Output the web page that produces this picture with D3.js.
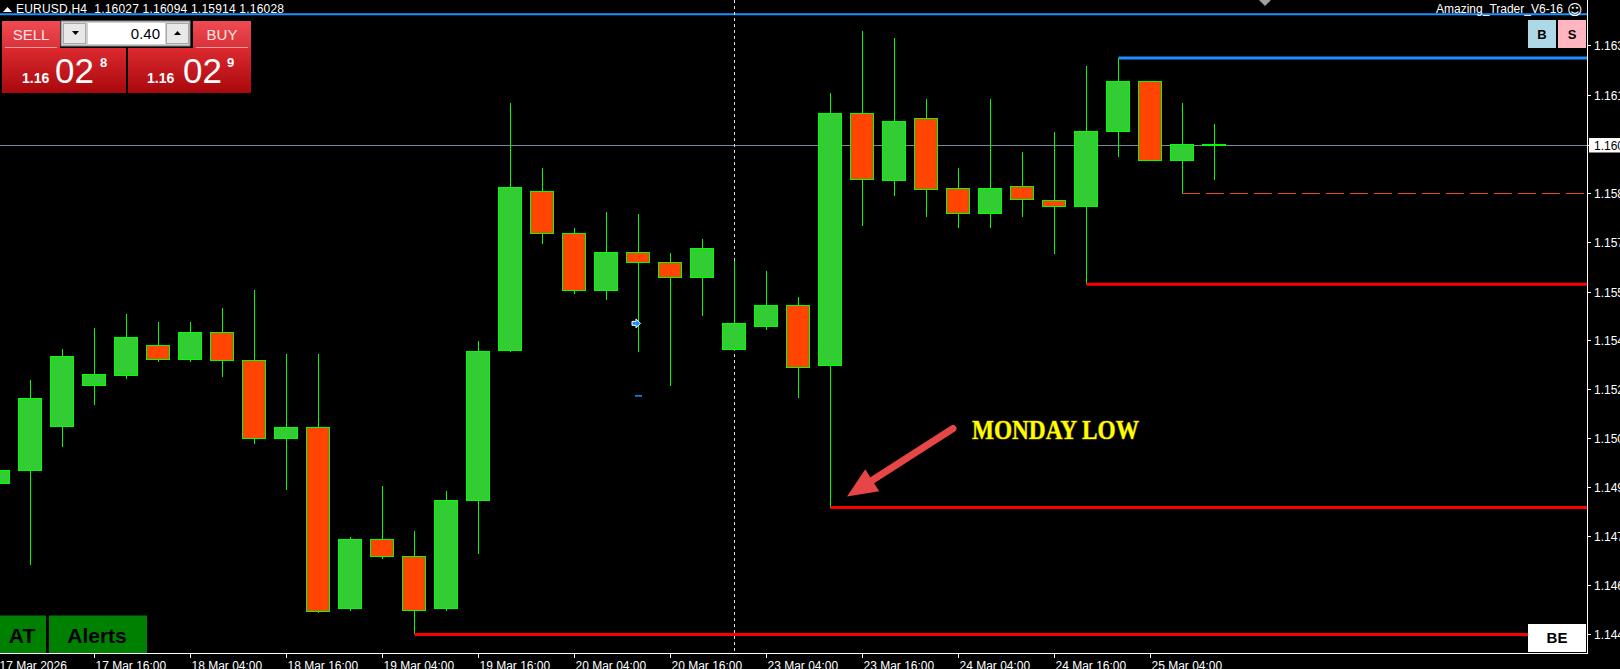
<!DOCTYPE html>
<html>
<head>
<meta charset="utf-8">
<script src="https://cdn.jsdelivr.net/npm/d3@7"></script>
<style>
  html, body { margin: 0; padding: 0; background: #000; overflow: hidden; }
  svg { display: block; font-family: "Liberation Sans", Arial, sans-serif; }
</style>
</head>
<body>
<script>
// EURUSD H4, 17 Mar 04:00 .. 25 Mar 12:00
const symbol = "EURUSD,H4";
const lastQuote = ["1.16027", "1.16094", "1.15914", "1.16028"];
const currentPrice = 1.16028;

const opens = [1.14938, 1.14981, 1.15120, 1.15253, 1.15287, 1.15383, 1.15336, 1.15423, 1.15333, 1.15084,
  1.15117, 1.14536, 1.14758, 1.14705, 1.14536, 1.14885, 1.15366, 1.15878, 1.15742, 1.15559,
  1.15682, 1.15649, 1.15599, 1.15370, 1.15443, 1.15512, 1.15316, 1.16127, 1.15911, 1.16113,
  1.15888, 1.15805, 1.15894, 1.15848, 1.15828, 1.16070, 1.16230, 1.15977, 1.16027];
const highs = [1.14998, 1.15270, 1.15370, 1.15439, 1.15482, 1.15459, 1.15456, 1.15502, 1.15559, 1.15356,
  1.15356, 1.14765, 1.14931, 1.14785, 1.14915, 1.15396, 1.16163, 1.15954, 1.15761, 1.15811,
  1.15805, 1.15678, 1.15725, 1.15652, 1.15622, 1.15539, 1.16193, 1.16392, 1.16369, 1.16173,
  1.15954, 1.16173, 1.16004, 1.16067, 1.16280, 1.16306, 1.16233, 1.16163, 1.16094];
const lows = [1.14931, 1.14675, 1.15054, 1.15190, 1.15273, 1.15330, 1.15330, 1.15280, 1.15064, 1.14918,
  1.14523, 1.14529, 1.14695, 1.14453, 1.14529, 1.14712, 1.15360, 1.15708, 1.15549, 1.15529,
  1.15360, 1.15253, 1.15476, 1.15363, 1.15433, 1.15213, 1.14861, 1.15765, 1.15864, 1.15795,
  1.15761, 1.15761, 1.15795, 1.15675, 1.15579, 1.15987, 1.15974, 1.15871, 1.15914];
const closes = [1.14981, 1.15213, 1.15346, 1.15290, 1.15409, 1.15336, 1.15423, 1.15333, 1.15084, 1.15117,
  1.14526, 1.14758, 1.14705, 1.14529, 1.14885, 1.15363, 1.15891, 1.15742, 1.15559, 1.15682,
  1.15649, 1.15599, 1.15695, 1.15453, 1.15512, 1.15310, 1.16127, 1.15914, 1.16103, 1.15884,
  1.15805, 1.15888, 1.15851, 1.15828, 1.16070, 1.16230, 1.15977, 1.16027, 1.16028];

// one label every 3 bars (12 hours)
const timeLabels = ["17 Mar 2026", "17 Mar 16:00", "18 Mar 04:00", "18 Mar 16:00", "19 Mar 04:00",
  "19 Mar 16:00", "20 Mar 04:00", "20 Mar 16:00", "23 Mar 04:00", "23 Mar 16:00",
  "24 Mar 04:00", "24 Mar 16:00", "25 Mar 04:00"];
const priceTicks = [1.16348, 1.16186, 1.16026, 1.15871, 1.15716, 1.15555, 1.15400, 1.15241,
  1.15086, 1.14928, 1.14770, 1.14612, 1.14454];

// horizontal levels: price and the bar they start from (-1 = whole chart)
const levelPrices = [1.16447, 1.16306, 1.15579, 1.14861, 1.14453];
const levelStartBars = [-1, 35, 34, 26, 13];
const levelKinds = ["blue", "blue", "red", "red", "red"];
const dashedLevel = 1.15871, dashedStartBar = 37;
const weekStartBar = 23;
const mondayLowBar = 26, mondayLow = 1.14861;
const tradeBar = 20, tradeEntry = 1.15453, tradeExit = 1.15220;

const width = 1620, height = 669;
const plotRight = 1587, plotBottom = 653;

const x = d3.scaleLinear().domain([0, opens.length - 1]).range([-2, 1214]);
const y = d3.scaleLinear().domain([1.14453, 1.16348]).range([634.4, 45]);

const bars = opens.map((o, i) => ({ i, o, h: highs[i], l: lows[i], c: closes[i] }));

const svg = d3.select("body").append("svg")
  .attr("width", width)
  .attr("height", height)
  .style("background", "#000");

const defs = svg.append("defs");
function addGrad(id, top, bottom) {
  const g = defs.append("linearGradient").attr("id", id)
    .attr("x1", 0).attr("y1", 0).attr("x2", 0).attr("y2", 1);
  g.append("stop").attr("offset", "0%").attr("stop-color", top);
  g.append("stop").attr("offset", "100%").attr("stop-color", bottom);
}
addGrad("btnGrad", "#f04b52", "#d83238");
addGrad("priceGrad", "#dc2a30", "#a8080c");

// top blue line + current price line
svg.append("line")
  .attr("x1", 0).attr("x2", plotRight)
  .attr("y1", y(levelPrices[0])).attr("y2", y(levelPrices[0]))
  .attr("stroke", "#1e90ff").attr("stroke-width", 2);

svg.append("line")
  .attr("x1", 0).attr("x2", plotRight)
  .attr("y1", Math.round(y(currentPrice)) + 0.5).attr("y2", Math.round(y(currentPrice)) + 0.5)
  .attr("stroke", "#778899").attr("stroke-width", 1);

// week separator
svg.append("line")
  .attr("x1", x(weekStartBar) + 0.5).attr("x2", x(weekStartBar) + 0.5)
  .attr("y1", 0).attr("y2", plotBottom)
  .attr("stroke", "#e0e0e0").attr("stroke-dasharray", "3,3");

// candles
const candle = svg.append("g").attr("shape-rendering", "crispEdges")
  .selectAll("g").data(bars).join("g");

candle.append("line")
  .attr("x1", d => x(d.i) + 0.5).attr("x2", d => x(d.i) + 0.5)
  .attr("y1", d => y(d.h)).attr("y2", d => y(d.l))
  .attr("stroke", "#00ff00");

candle.append("rect")
  .attr("x", d => x(d.i) - 11.5)
  .attr("width", 23)
  .attr("y", d => y(Math.max(d.o, d.c)))
  .attr("height", d => Math.max(0.5, Math.abs(y(d.o) - y(d.c))))
  .attr("fill", d => d.c >= d.o ? "#32cd32" : "#ff4500")
  .attr("stroke", "#00ff00");

// horizontal level lines
levelPrices.forEach((p, k) => {
  if (k === 0) return;
  const x1 = x(levelStartBars[k]) + 0.5;
  const x2 = k === levelPrices.length - 1 ? 1528 : plotRight;
  svg.append("line")
    .attr("x1", x1).attr("x2", x2)
    .attr("y1", y(p)).attr("y2", y(p))
    .attr("stroke", levelKinds[k] === "blue" ? "#1e90ff" : "#ff0000")
    .attr("stroke-width", 3);
});

svg.append("line")
  .attr("x1", x(dashedStartBar)).attr("x2", plotRight)
  .attr("y1", Math.round(y(dashedLevel)) + 0.5).attr("y2", Math.round(y(dashedLevel)) + 0.5)
  .attr("stroke", "#e0501c").attr("stroke-dasharray", "18,6");

// trade marks
svg.append("path")
  .attr("transform", `translate(${x(tradeBar) - 2},${y(tradeEntry)})`)
  .attr("d", "M-4,-2L0,-2L0,-4.5L4.5,0L0,4.5L0,2L-4,2Z")
  .attr("fill", "#1e90ff").attr("stroke", "#fff").attr("stroke-width", 1);
svg.append("line")
  .attr("x1", x(tradeBar) - 3).attr("x2", x(tradeBar) + 4)
  .attr("y1", y(tradeExit)).attr("y2", y(tradeExit))
  .attr("stroke", "#1e90ff").attr("stroke-width", 1.5);

// chart shift marker
svg.append("path").attr("d", "M1259,0L1271,0L1265,6Z").attr("fill", "#a0a0a0");

// Monday low annotation
const tip = [x(mondayLowBar) + 17, y(mondayLow) - 11];
const tail = [x(mondayLowBar) + 123, y(mondayLow) - 79];
const dx = tip[0] - tail[0], dy = tip[1] - tail[1];
const len = Math.hypot(dx, dy), ux = dx / len, uy = dy / len;
const base = [tip[0] - 30 * ux, tip[1] - 30 * uy];
svg.append("line")
  .attr("x1", tail[0]).attr("y1", tail[1])
  .attr("x2", base[0] + 6 * ux).attr("y2", base[1] + 6 * uy)
  .attr("stroke", "#e64646").attr("stroke-width", 7).attr("stroke-linecap", "round");
svg.append("path")
  .attr("d", `M${tip[0]},${tip[1]}L${base[0] - 13 * uy},${base[1] + 13 * ux}L${base[0] + 13 * uy},${base[1] - 13 * ux}Z`)
  .attr("fill", "#e64646");

svg.append("text")
  .attr("x", x(mondayLowBar) + 142).attr("y", y(mondayLow) - 69)
  .attr("textLength", 167).attr("lengthAdjust", "spacingAndGlyphs")
  .attr("font-family", "'Liberation Serif', 'DejaVu Serif', serif")
  .attr("font-weight", "bold").attr("font-size", 27)
  .attr("fill", "#ffff00").attr("stroke", "#6b5a00").attr("stroke-width", 1.2)
  .attr("paint-order", "stroke")
  .text("MONDAY LOW");

// axes frame
svg.append("line").attr("x1", plotRight + 0.5).attr("x2", plotRight + 0.5)
  .attr("y1", 0).attr("y2", plotBottom + 1).attr("stroke", "#fff");
svg.append("line").attr("x1", 0).attr("x2", plotRight + 1)
  .attr("y1", plotBottom + 0.5).attr("y2", plotBottom + 0.5).attr("stroke", "#fff");

// price axis
const pAxis = svg.append("g").selectAll("g").data(priceTicks).join("g")
  .attr("transform", d => `translate(0,${Math.round(y(d)) + 0.5})`);
pAxis.append("line").attr("x1", plotRight).attr("x2", plotRight + 4).attr("stroke", "#fff");
pAxis.append("text")
  .attr("x", 1594).attr("y", 4.5)
  .attr("font-size", 12).attr("fill", "#fff")
  .text(d => d.toFixed(5));

const cy = Math.round(y(currentPrice)) + 0.5;
svg.append("rect").attr("x", 1589).attr("y", cy - 7.5).attr("width", 40).attr("height", 14.5).attr("fill", "#fff");
svg.append("text").attr("x", 1594).attr("y", cy + 4.5)
  .attr("font-size", 12).attr("fill", "#000").text(currentPrice.toFixed(5));

// time axis
const tAxis = svg.append("g").selectAll("g").data(timeLabels).join("g")
  .attr("transform", (d, k) => `translate(${x(k * 3) + 0.5},0)`);
tAxis.append("line").attr("y1", plotBottom).attr("y2", plotBottom + 5).attr("stroke", "#fff");
tAxis.append("text")
  .attr("x", 1).attr("y", 670)
  .attr("font-size", 12).attr("fill", "#fff")
  .text(d => d);

// header
svg.append("path").attr("d", "M3,12L12,12L7.5,7Z").attr("fill", "#fff");
svg.append("text")
  .attr("x", 16).attr("y", 12.7)
  .attr("font-size", 12).attr("fill", "#fff")
  .attr("textLength", 268).attr("lengthAdjust", "spacing")
  .style("white-space", "pre")
  .text(`${symbol}  ${lastQuote.join(" ")}`);

svg.append("text")
  .attr("x", 1563).attr("y", 13).attr("text-anchor", "end")
  .attr("font-size", 12).attr("fill", "#fff")
  .text("Amazing_Trader_V6-16");
svg.append("text")
  .attr("x", 1567).attr("y", 14.5)
  .attr("font-family", "'DejaVu Sans', sans-serif")
  .attr("font-size", 15).attr("fill", "#fff")
  .text("\u263A");

// B / S buttons
[["B", 1528, "#add8e6"], ["S", 1558, "#ffb6c1"]].forEach(([t, bx, col]) => {
  svg.append("rect").attr("x", bx).attr("y", 20).attr("width", 28).attr("height", 28).attr("fill", col);
  svg.append("text").attr("x", bx + 14).attr("y", 38.5).attr("text-anchor", "middle")
    .attr("font-size", 13).attr("font-weight", "bold").attr("fill", "#000").text(t);
});

// trade panel
const sides = [
  { label: "SELL", bx: 2, px: 2, pw: 124, priceX: 22, bigX: 55, supX: 100, sup: "8" },
  { label: "BUY", bx: 193, px: 128, pw: 123, priceX: 147, bigX: 183, supX: 227, sup: "9" }
];
sides.forEach(s => {
  svg.append("rect").attr("x", s.bx).attr("y", 21).attr("width", 58).attr("height", 27).attr("fill", "url(#btnGrad)");
  svg.append("rect").attr("x", s.px).attr("y", 48).attr("width", s.pw).attr("height", 45).attr("fill", "url(#priceGrad)");
  svg.append("line").attr("x1", s.bx + 3).attr("x2", s.bx + 55).attr("y1", 47.5).attr("y2", 47.5)
    .attr("stroke", "#f49a9a");
  svg.append("text").attr("x", s.bx + 29).attr("y", 39.5).attr("text-anchor", "middle")
    .attr("font-size", 15).attr("fill", "#ffe6e6").text(s.label);
  svg.append("text").attr("x", s.priceX).attr("y", 82.7)
    .attr("font-size", 14).attr("font-weight", "bold").attr("fill", "#fff").text("1.16");
  svg.append("text").attr("x", s.bigX).attr("y", 82.7)
    .attr("font-size", 35).attr("fill", "#fff").text("02");
  svg.append("text").attr("x", s.supX).attr("y", 66.7)
    .attr("font-size", 13).attr("font-weight", "bold").attr("fill", "#fff").text(s.sup);
});

svg.append("rect").attr("x", 61).attr("y", 21).attr("width", 129).attr("height", 25)
  .attr("fill", "#d0d0d0").attr("stroke", "#8a8a8a");
svg.append("rect").attr("x", 63.5).attr("y", 23.5).attr("width", 22).attr("height", 20)
  .attr("fill", "#e8e8e8").attr("stroke", "#a8a8a8");
svg.append("rect").attr("x", 88).attr("y", 23).attr("width", 77).attr("height", 21).attr("fill", "#fff");
svg.append("rect").attr("x", 166.5).attr("y", 23.5).attr("width", 22).attr("height", 20)
  .attr("fill", "#e8e8e8").attr("stroke", "#a8a8a8");
svg.append("path").attr("d", "M72,31L79,31L75.5,35Z").attr("fill", "#000");
svg.append("path").attr("d", "M174,35L181,35L177.5,31Z").attr("fill", "#000");
svg.append("text").attr("x", 160).attr("y", 38.5).attr("text-anchor", "end")
  .attr("font-size", 15).attr("fill", "#000").text("0.40");

// AT / Alerts buttons
[["AT", 0, 46], ["Alerts", 49, 98]].forEach(([t, bx, bw]) => {
  svg.append("rect").attr("x", bx).attr("y", 615.5).attr("width", bw).attr("height", 37.5).attr("fill", "#008000");
  svg.append("text").attr("x", bx + bw / 2 - 1).attr("y", 643).attr("text-anchor", "middle")
    .attr("font-size", 21).attr("font-weight", "bold").attr("fill", "#000").text(t);
});

// BE box
svg.append("rect").attr("x", 1528).attr("y", 624).attr("width", 58).attr("height", 28).attr("fill", "#fff");
svg.append("text").attr("x", 1557).attr("y", 643).attr("text-anchor", "middle")
  .attr("font-size", 15).attr("font-weight", "bold").attr("fill", "#000").text("BE");
</script>
</body>
</html>
